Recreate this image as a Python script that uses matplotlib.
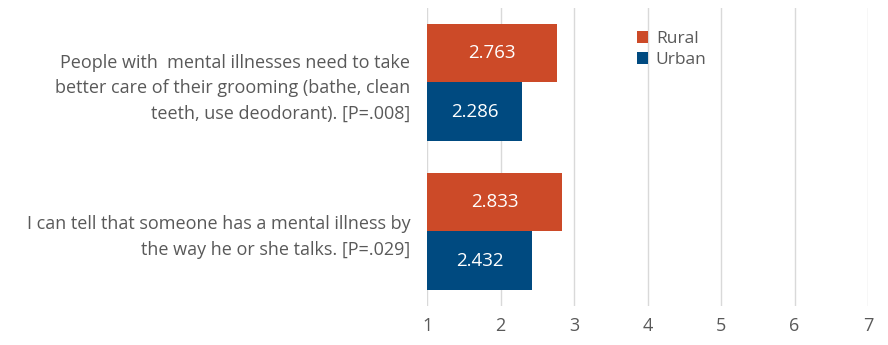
import numpy as np
import matplotlib.pyplot as plt

categories = ["People with  mental illnesses need to take\nbetter care of their grooming (bathe, clean\nteeth, use deodorant). [P=.008]",
              "I can tell that someone has a mental illness by\nthe way he or she talks. [P=.029]"]
rural = [2.763, 2.833]
urban = [2.286, 2.432]
xticks = [1, 2, 3, 4, 5, 6, 7]

plt.rcParams['font.family'] = ['Open Sans', 'DejaVu Sans']
grey = '#595959'

fig = plt.figure(figsize=(8.88, 3.45), dpi=100)
ax = fig.add_axes([0.481, 0.113, 0.4965, 0.864])

y = np.arange(len(categories))
h = 0.39
base = 1
rb = ax.barh(y - h / 2, np.array(rural) - base, height=h, left=base, color='#CC4A28', label='Rural')
ub = ax.barh(y + h / 2, np.array(urban) - base, height=h, left=base, color='#004A80', label='Urban')

for bars, vals in [(rb, rural), (ub, urban)]:
    for b, v in zip(bars, vals):
        ax.text(b.get_x() + b.get_width() / 2, b.get_y() + b.get_height() / 2, "%.3f" % v,
                ha='center', va='center', color='white', fontsize=13.5)

ax.set_xlim(1, 7)
ax.set_ylim(1.5, -0.5)
ax.set_xticks(xticks)
ax.set_yticks(y)
ax.set_yticklabels(categories, ha='right', color=grey, fontsize=13, linespacing=1.55)
ax.tick_params(axis='x', colors=grey, labelsize=13, length=0, pad=8)
ax.tick_params(axis='y', length=0, pad=12)
ax.grid(axis='x', color='#D9D9D9', linewidth=1)
ax.set_axisbelow(True)
for s in ax.spines.values():
    s.set_visible(False)

leg = ax.legend(loc='upper left', bbox_to_anchor=(0.44, 0.975), frameon=False, fontsize=12.5,
                handlelength=0.65, handleheight=0.65, handletextpad=0.45, labelspacing=0.3)
for t in leg.get_texts():
    t.set_color(grey)

fig.savefig('out.png', dpi=100)
